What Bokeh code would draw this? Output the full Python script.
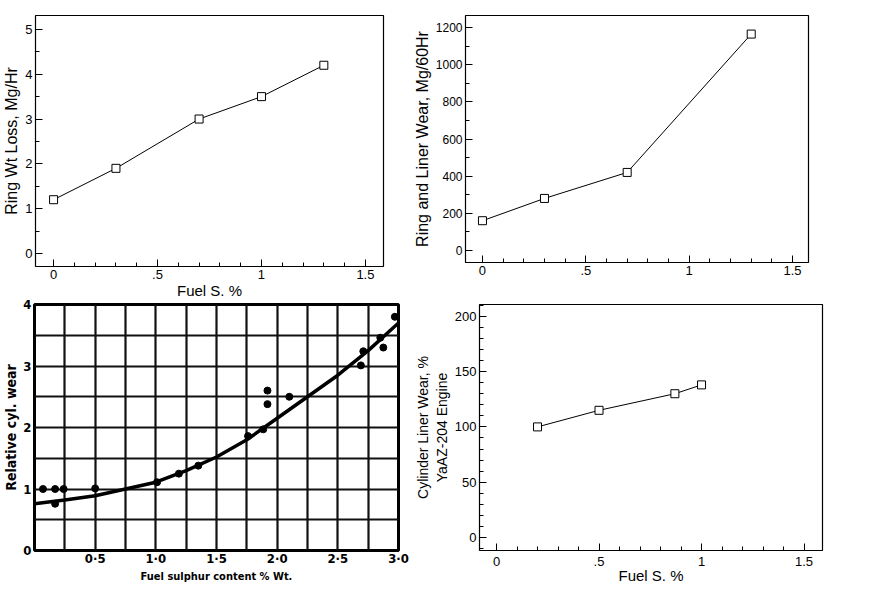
from bokeh.plotting import figure
from bokeh.layouts import column, row
from bokeh.models import FixedTicker, Range1d
from bokeh.embed import file_html
from bokeh.resources import INLINE

# ---------------- data ----------------
# Top-left: ring weight loss vs fuel sulphur
tl_sulfur = [0.0, 0.3, 0.7, 1.0, 1.3]
tl_ring_loss = [1.2, 1.9, 3.0, 3.5, 4.2]

# Top-right: ring and liner wear vs fuel sulphur
tr_sulfur = [0.0, 0.3, 0.7, 1.3]
tr_wear = [160, 280, 420, 1165]

# Bottom-left: relative cylinder wear (scanned chart)
bl_pts_sulfur = [0.07, 0.17, 0.24, 0.17, 0.50, 1.01, 1.19, 1.35, 1.76, 1.885,
                 1.92, 1.92, 2.10, 2.69, 2.71, 2.85, 2.875, 2.97]
bl_pts_wear = [1.0, 1.0, 1.0, 0.76, 1.01, 1.11, 1.25, 1.38, 1.86, 1.97,
               2.60, 2.38, 2.50, 3.01, 3.24, 3.46, 3.30, 3.80]
bl_curve_sulfur = [0.0, 0.25, 0.5, 0.75, 1.0, 1.25, 1.5, 1.75, 2.0, 2.25, 2.5, 2.75, 3.0]
bl_curve_wear = [0.76, 0.82, 0.89, 1.0, 1.11, 1.30, 1.52, 1.80, 2.15, 2.50, 2.85, 3.25, 3.70]

# Bottom-right: cylinder liner wear, YaAZ-204 engine
br_sulfur = [0.2, 0.5, 0.87, 1.0]
br_wear = [100, 115, 130, 138]

# ticks
x_ticks = [0, 0.5, 1.0, 1.5]
x_tick_labels = ["0", ".5", "1", "1.5"]
x_minor = [round(i * 0.1, 1) for i in range(-1, 17)]
tl_y_ticks = [0, 1, 2, 3, 4, 5]
tl_y_minor = [i * 0.5 for i in range(-1, 12)]
tr_y_ticks = [0, 200, 400, 600, 800, 1000, 1200]
tr_y_minor = [i * 100 for i in range(-1, 13)]
br_y_ticks = [0, 50, 100, 150, 200]
br_y_minor = [i * 10 for i in range(-1, 22)]
bl_x_ticks = [0.5, 1.0, 1.5, 2.0, 2.5, 3.0]
bl_x_tick_labels = ["0·5", "1·0", "1·5", "2·0", "2·5", "3·0"]
bl_y_ticks = [0, 1, 2, 3, 4]
bl_xgrid = [i * 0.25 for i in range(0, 13)]
bl_ygrid = [i * 0.5 for i in range(0, 9)]

FONT = "Liberation Sans"
BFONT = "DejaVu Sans Condensed"


def clean_style(p, yticks, yminor, ylabel, xlabel=None, tick_size="13px", label_size="16px"):
    p.outline_line_color = "black"
    p.outline_line_width = 1.2
    p.xgrid.visible = False
    p.ygrid.visible = False
    p.xaxis.ticker = FixedTicker(ticks=x_ticks, minor_ticks=x_minor)
    p.xaxis.major_label_overrides = {t: l for t, l in zip(x_ticks, x_tick_labels)}
    p.yaxis.ticker = FixedTicker(ticks=yticks, minor_ticks=yminor)
    for ax in (p.xaxis[0], p.yaxis[0]):
        ax.axis_line_color = None
        ax.major_tick_in = 7
        ax.major_tick_out = 0
        ax.minor_tick_in = 4
        ax.minor_tick_out = 0
        ax.major_tick_line_color = "black"
        ax.minor_tick_line_color = "black"
        ax.major_label_text_font = FONT
        ax.major_label_text_font_size = tick_size
        ax.major_label_text_color = "black"
        ax.major_label_standoff = 3
        ax.axis_label_text_font = FONT
        ax.axis_label_text_font_size = label_size
        ax.axis_label_text_font_style = "normal"
        ax.axis_label_text_color = "black"
        ax.axis_label_standoff = 2
    p.xaxis.major_label_text_font_size = "13px"
    p.yaxis.axis_label = ylabel
    if xlabel:
        p.xaxis.axis_label = xlabel
        p.xaxis.axis_label_text_font_size = "15px"
        p.xaxis.axis_label_standoff = 0


# ---------------- top-left ----------------
p1 = figure(frame_width=348, frame_height=251, output_backend="svg", toolbar_location=None,
            x_range=Range1d(-0.087, 1.587), y_range=Range1d(-0.29, 5.31),
            min_border_left=32, min_border_right=27, min_border_top=12, min_border_bottom=35)
clean_style(p1, tl_y_ticks, tl_y_minor, "Ring Wt Loss, Mg/Hr", "Fuel S. %")
p1.line(tl_sulfur, tl_ring_loss, line_color="black", line_width=1)
p1.scatter(tl_sulfur, tl_ring_loss, marker="square", size=8, fill_color="white",
           line_color="black", line_width=1)

# ---------------- top-right ----------------
p2 = figure(frame_width=343, frame_height=247, output_backend="svg", toolbar_location=None,
            x_range=Range1d(-0.082, 1.577), y_range=Range1d(-65, 1265),
            min_border_left=50, min_border_right=69, min_border_top=15, min_border_bottom=36)
clean_style(p2, tr_y_ticks, tr_y_minor, "Ring and Liner Wear, Mg/60Hr", tick_size="12px")
p2.line(tr_sulfur, tr_wear, line_color="black", line_width=1)
p2.scatter(tr_sulfur, tr_wear, marker="square", size=8, fill_color="white",
           line_color="black", line_width=1)

# ---------------- bottom-left ----------------
p3 = figure(frame_width=364, frame_height=246, output_backend="svg", toolbar_location=None,
            x_range=Range1d(0, 3.0), y_range=Range1d(0, 4.0),
            min_border_left=30, min_border_right=13, min_border_top=5, min_border_bottom=34)
p3.outline_line_color = "black"
p3.outline_line_width = 3
p3.xgrid.ticker = FixedTicker(ticks=bl_xgrid)
p3.ygrid.ticker = FixedTicker(ticks=bl_ygrid)
for g in (p3.xgrid[0], p3.ygrid[0]):
    g.grid_line_color = "#111111"
    g.grid_line_width = 2.2
    g.grid_line_alpha = 1.0
p3.xaxis.ticker = FixedTicker(ticks=bl_x_ticks)
p3.xaxis.major_label_overrides = {t: l for t, l in zip(bl_x_ticks, bl_x_tick_labels)}
p3.yaxis.ticker = FixedTicker(ticks=bl_y_ticks)
for ax in (p3.xaxis[0], p3.yaxis[0]):
    ax.axis_line_color = None
    ax.major_tick_line_color = None
    ax.minor_tick_line_color = None
    ax.major_tick_out = 0
    ax.major_tick_in = 0
    ax.minor_tick_out = 0
    ax.minor_tick_in = 0
    ax.major_label_text_font = BFONT
    ax.major_label_text_font_style = "bold"
    ax.major_label_text_font_size = "13px"
    ax.major_label_text_color = "black"
    ax.major_label_standoff = 3
    ax.axis_label_text_font = BFONT
    ax.axis_label_text_font_style = "bold"
    ax.axis_label_text_color = "black"
    ax.axis_label_standoff = 1
p3.xaxis.major_label_standoff = 0
p3.xaxis.axis_label = "Fuel sulphur content % Wt."
p3.xaxis.axis_label_text_font_size = "11px"
p3.yaxis.axis_label = "Relative cyl. wear"
p3.yaxis.axis_label_text_font_size = "14px"
p3.line(bl_curve_sulfur, bl_curve_wear, line_color="black", line_width=3.5)
p3.scatter(bl_pts_sulfur, bl_pts_wear, marker="circle", size=7, fill_color="black",
           line_color="black")

# ---------------- bottom-right ----------------
p4 = figure(frame_width=343, frame_height=246, output_backend="svg", toolbar_location=None,
            x_range=Range1d(-0.083, 1.59), y_range=Range1d(-11.8, 210.7),
            min_border_left=58, min_border_right=61, min_border_top=6, min_border_bottom=33)
clean_style(p4, br_y_ticks, br_y_minor, "Cylinder Liner Wear, %\nYaAZ-204 Engine", "Fuel S. %",
            label_size="14px")
p4.xaxis.major_label_standoff = 6
p4.xaxis.axis_label_standoff = -2
p4.line(br_sulfur, br_wear, line_color="black", line_width=1)
p4.scatter(br_sulfur, br_wear, marker="square", size=8, fill_color="white",
           line_color="black", line_width=1)

layout = column(row(p1, p2), row(p3, p4))
open("out.html", "w").write(file_html(layout, INLINE))
